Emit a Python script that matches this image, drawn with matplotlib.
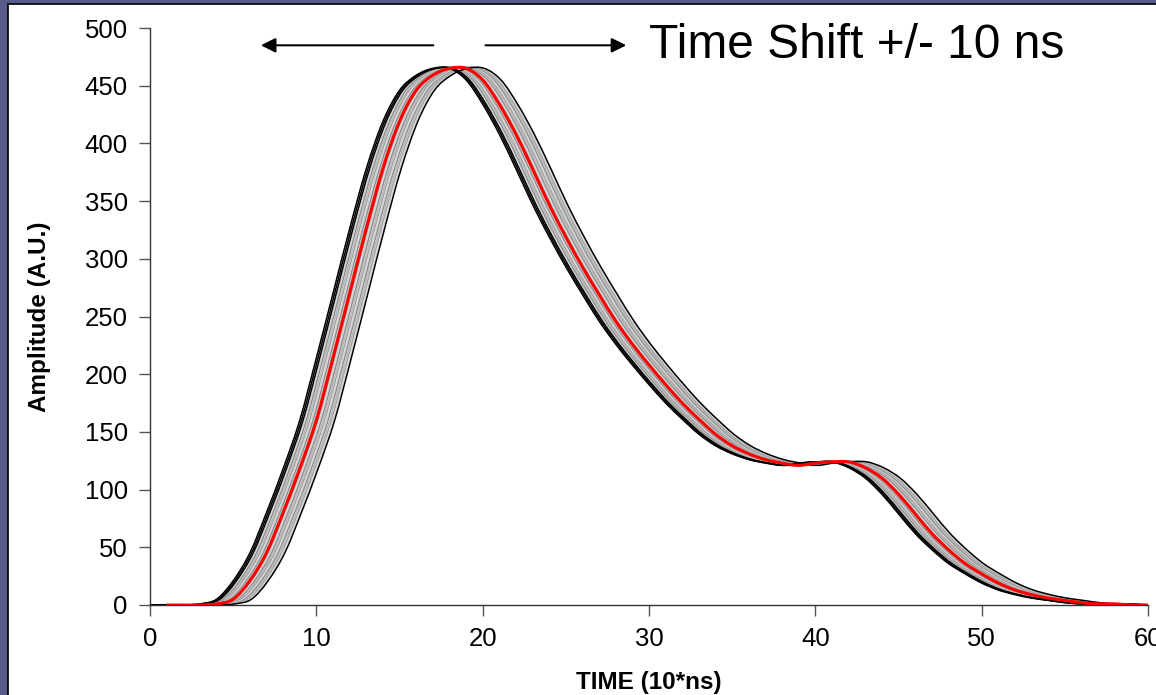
import numpy as np
import matplotlib
matplotlib.use("Agg")
import matplotlib.pyplot as plt
from matplotlib.patches import Rectangle, PathPatch
from matplotlib.path import Path

plt.rcParams['font.family'] = ['Liberation Sans', 'DejaVu Sans']

# reference pulse (red), sampled every 10 ns
time = list(range(1, 61))
amplitude = [0, 0, 0, 1, 5, 21, 45, 80, 118, 160,
             214, 270, 326, 378, 419, 446, 459, 465, 465, 455,
             434, 408, 378, 347, 319, 293, 269, 246, 226, 208,
             191, 175, 161, 148, 138, 131, 126, 123, 121, 123,
             124, 124, 119, 110, 96, 79, 62, 48, 36, 27,
             19, 13, 9, 6, 4, 2, 1, 1, 0, 0]

# time shifts applied to the pulse (units of 10 ns)
shifts = [-1.0, -0.9, -0.8, -0.7, -0.6, -0.5, -0.4, -0.3, -0.2, -0.1,
          0.1, 0.2, 0.3, 0.4, 0.5, 0.6, 0.7, 0.8, 0.9, 1.0, 1.1]


def smooth_line(ax, x, y, **kw):
    # Excel-style smoothed line: cubic bezier through the data points
    p = np.column_stack([x, y]).astype(float)
    ext = np.vstack([p[0], p, p[-1]])
    verts = [p[0]]
    codes = [Path.MOVETO]
    for i in range(len(p) - 1):
        a, b, c, d = ext[i], ext[i + 1], ext[i + 2], ext[i + 3]
        verts += [b + (c - a) / 6, c - (d - b) / 6, c]
        codes += [Path.CURVE4] * 3
    ax.add_patch(PathPatch(Path(verts, codes), fill=False,
                           transform=ax.transData, **kw))


fig = plt.figure(figsize=(11.56, 6.95), dpi=100)
fig.patch.set_facecolor('#5a5b8d')
# white slide panel
fig.patches.append(Rectangle((8 / 1156, -0.01), 1.0, 1 - 4 / 695 + 0.01,
                             transform=fig.transFigure, facecolor='white',
                             edgecolor='black', linewidth=1.2, zorder=-5))

ax = fig.add_axes([150 / 1156, 90 / 695, 998 / 1156, 577 / 695])
ax.set_facecolor('none')

greys = ['#8e8e8e', '#b8b8b8', '#a2a2a2', '#d4d4d4']
t = np.array(time, dtype=float)
for i, s in enumerate(shifts):
    if s <= -0.8 or s >= 1.1:
        smooth_line(ax, t + s, amplitude, edgecolor='black', lw=1.1, zorder=3)
    else:
        smooth_line(ax, t + s, amplitude, edgecolor=greys[i % 4], lw=1.1,
                    zorder=2)
smooth_line(ax, t, amplitude, edgecolor='red', lw=2.2, zorder=4)

ax.set_xlim(0, 60)
ax.set_ylim(0, 500)
ax.set_xticks(range(0, 61, 10))
ax.set_yticks(range(0, 501, 50))
for side in ['top', 'right']:
    ax.spines[side].set_visible(False)
for side in ['left', 'bottom']:
    ax.spines[side].set_color('#333333')
    ax.spines[side].set_linewidth(1.0)
ax.tick_params(axis='both', direction='out', length=8, width=1,
               color='#555555', labelsize=18.5, pad=8)
ax.tick_params(axis='y', pad=8)
ax.set_xlabel('TIME (10*ns)', fontsize=17.5, fontweight='bold', labelpad=14)
ax.set_ylabel('Amplitude (A.U.)', fontsize=17.5, fontweight='bold', labelpad=24)

# time shift arrows and label
ax.annotate('', xy=(6.5, 485), xytext=(17.2, 485),
            arrowprops=dict(arrowstyle='-|>', color='black', lw=1.5,
                            mutation_scale=22), annotation_clip=False)
ax.annotate('', xy=(28.8, 485), xytext=(20.0, 485),
            arrowprops=dict(arrowstyle='-|>', color='black', lw=1.5,
                            mutation_scale=22), annotation_clip=False)
ax.text(30.0, 485, 'Time Shift +/- 10 ns', fontsize=34.5, va='center',
        ha='left')

fig.savefig('out.png', dpi=100, facecolor=fig.get_facecolor())
